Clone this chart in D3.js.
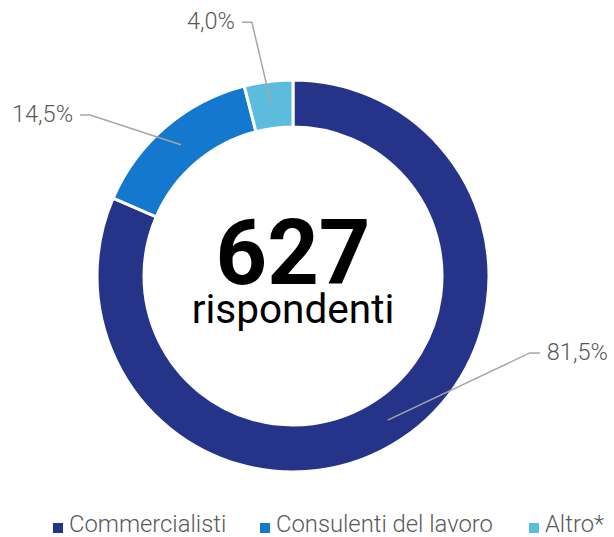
<!DOCTYPE html>
<html>
<head>
<meta charset="utf-8">
<script src="https://cdn.jsdelivr.net/npm/d3@7"></script>
<style>
  body { margin: 0; background: #fff; }
  svg { display: block; font-family: Roboto, sans-serif; }
</style>
</head>
<body>
<svg id="chart"></svg>
<script>
// Data
const categories = ['Commercialisti', 'Consulenti del lavoro', 'Altro*'];
const shares = [81.5, 14.5, 4.0];
const shareLabels = ['81,5%', '14,5%', '4,0%'];
const total = 627;
const totalLabel = 'rispondenti';

const colors = ['#253388', '#1478ce', '#5bbcde'];

const width = 614;
const height = 537;
const cx = 293;
const cy = 276;
const outerR = 196;
const innerR = 149;

// where each leader line bends (angle in degrees clockwise from top, radius)
const elbows = [
  { angle: 108, r: 249, side: 1 },
  { angle: -51.6, r: 259, side: -1 },
  { angle: -9.2, r: 257, side: -1 }
];

const svg = d3.select('#chart')
  .attr('width', width)
  .attr('height', height);

const g = svg.append('g')
  .attr('transform', `translate(${cx}, ${cy})`);

const pie = d3.pie().sort(null).value(d => d.value);
const arcs = pie(categories.map((c, i) => ({ name: c, value: shares[i] })));

const arc = d3.arc().innerRadius(innerR).outerRadius(outerR);
const midArc = d3.arc().innerRadius((innerR + outerR) / 2).outerRadius((innerR + outerR) / 2);

g.selectAll('path.slice')
  .data(arcs)
  .enter().append('path')
  .attr('class', 'slice')
  .attr('d', arc)
  .attr('fill', (d, i) => colors[i])
  .attr('stroke', '#fff')
  .attr('stroke-width', 3);

// leader lines + labels
arcs.forEach((d, i) => {
  const [x0, y0] = midArc.centroid(d);
  const e = elbows[i];
  const a = e.angle * Math.PI / 180;
  const x1 = e.r * Math.sin(a);
  const y1 = -e.r * Math.cos(a);
  const x2 = x1 + e.side * 10;

  g.append('polyline')
    .attr('points', `${x0},${y0} ${x1},${y1} ${x2},${y1}`)
    .attr('fill', 'none')
    .attr('stroke', '#a6a6a6')
    .attr('stroke-width', 1.5);

  g.append('text')
    .attr('x', x2 + e.side * 7)
    .attr('y', y1 + 7)
    .attr('text-anchor', e.side > 0 ? 'start' : 'end')
    .style('font-size', '23.5px')
    .style('font-weight', 300)
    .attr('fill', '#595959')
    .text(shareLabels[i]);
});

// centre text
g.append('text')
  .attr('y', 8)
  .attr('text-anchor', 'middle')
  .style('font-size', '90px')
  .style('font-weight', 700)
  .attr('fill', '#000')
  .text(total);

g.append('text')
  .attr('y', 47)
  .attr('text-anchor', 'middle')
  .style('font-size', '40.5px')
  .style('font-weight', 400)
  .attr('fill', '#000')
  .text(totalLabel);

// legend
const legendX = [53, 260, 529];
const legend = svg.append('g').attr('transform', 'translate(0, 523)');

const item = legend.selectAll('g')
  .data(categories)
  .enter().append('g')
  .attr('transform', (d, i) => `translate(${legendX[i]}, 0)`);

item.append('rect')
  .attr('width', 10)
  .attr('height', 10)
  .attr('fill', (d, i) => colors[i]);

item.append('text')
  .attr('x', 16)
  .attr('y', 9)
  .style('font-size', '23.8px')
  .style('font-weight', 300)
  .attr('fill', '#595959')
  .text(d => d);
</script>
</body>
</html>
